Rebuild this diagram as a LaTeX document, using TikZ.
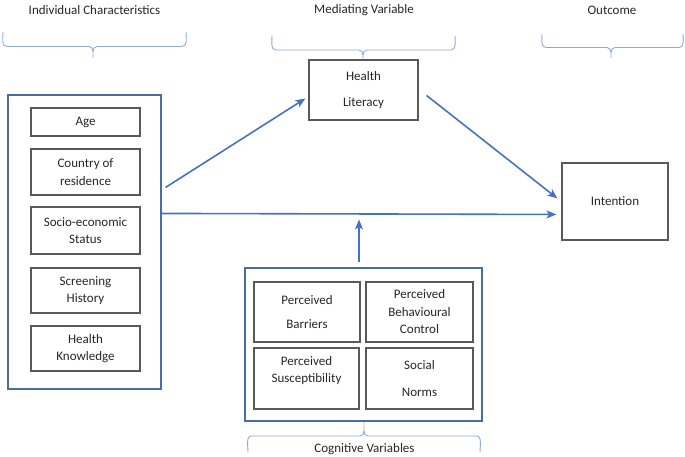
\documentclass[tikz,border=0pt]{standalone}
\usepackage{fontspec}
\setmainfont{Carlito}
\usetikzlibrary{arrows.meta,calc}
\definecolor{arrblue}{HTML}{4472C4}
\definecolor{boxblue}{HTML}{4A6BA8}
\definecolor{braceblue}{HTML}{8EAADB}
\definecolor{boxgray}{HTML}{595959}
\tikzset{
  every node/.style={font=\fontsize{13}{17.5}\selectfont, text=black!85},
  ibox/.style={draw=boxgray, line width=1.1pt, inner sep=0pt, align=center},
  obox/.style={draw=boxblue, line width=1.1pt, inner sep=0pt},
  arr/.style={draw=arrblue, line width=1.6pt, -{Stealth[length=10pt,width=8pt,inset=2.5pt]}},
  brace/.style={draw=braceblue, line width=0.9pt},
  lbl/.style={inner sep=0pt}
}
\newcommand{\topbrace}[6]{% x1, x2, xm, ytop, yh, ytip
  \draw[brace] (#1,#4) to[out=-90,in=180] (#1+4,#5) -- (#3-4,#5) to[out=0,in=90] (#3,#5+5) -- (#3,#6);
  \draw[brace] (#3,#5+5) to[out=90,in=180] (#3+4,#5) -- (#2-4,#5) to[out=0,in=-90] (#2,#4);
}
\newcommand{\botbrace}[6]{% x1, x2, xm, ybot, yh, ytip
  \draw[brace] (#1,#4) to[out=90,in=180] (#1+4,#5) -- (#3-4,#5) to[out=0,in=-90] (#3,#5-5) -- (#3,#6);
  \draw[brace] (#3,#5-5) to[out=-90,in=180] (#3+4,#5) -- (#2-4,#5) to[out=0,in=90] (#2,#4);
}
\begin{document}
\begin{tikzpicture}[x=1pt,y=-1pt]
\useasboundingbox (0,0) rectangle (685,457);

% headings
\node[lbl] (hind) at (94.5,10) {Individual Characteristics};
\node[lbl] (hmed) at (364,10) {Mediating Variable};
\node[lbl] (hout) at (612,10) {Outcome};
\node[lbl] (hcog) at (364.5,449) {Cognitive Variables};

% braces
\topbrace{3}{186}{93}{32}{46.5}{58}
\topbrace{272}{455}{363}{36}{50}{60}
\topbrace{542}{683}{611}{34}{47.5}{58}
\botbrace{248}{480}{364}{452}{436}{422}

% left group
\node[obox, minimum width=153pt, minimum height=294pt] (L) at (84.5,242) {};
\node[ibox, minimum width=109pt, minimum height=28pt] (age) at (85.5,122) {Age};
\node[ibox, minimum width=109pt, minimum height=46pt] (cor) at (85.5,172) {Country of\\residence};
\node[ibox, minimum width=109pt, minimum height=47pt] (ses) at (85.5,230.5) {Socio-economic\\Status};
\node[ibox, minimum width=109pt, minimum height=45pt] (sh) at (85.5,290.5) {Screening\\History};
\node[ibox, minimum width=109pt, minimum height=45pt] (hk) at (85.5,348.5) {Health\\Knowledge};

% mediating and outcome
\node[ibox, minimum width=109pt, minimum height=60pt] (HL) at (363.5,90) {Health\\[9pt]Literacy};
\node[ibox, minimum width=106pt, minimum height=77pt] (I) at (615,201.5) {Intention};

% cognitive group
\node[obox, minimum width=237pt, minimum height=153pt] (CB) at (363.5,344.5) {};
\node[ibox, minimum width=106pt, minimum height=60pt] (pb) at (307,312) {\rule{0pt}{6pt}Perceived\\[7pt]Barriers};
\node[ibox, minimum width=107pt, minimum height=60pt] (pbc) at (419.5,312) {Perceived\\Behavioural\\Control};
\node[ibox, minimum width=105pt, minimum height=61pt] (ps) at (306.5,378.5) {Perceived\\Susceptibility\\[1pt]};
\node[ibox, minimum width=107pt, minimum height=61pt] (sn) at (419.5,378.5) {Social\\[9pt]Norms};

% connectors
\draw[arr] ([shift={(4,93)}]L.north east) -- ([shift={(-3,39)}]HL.north west);
\draw[arr] ([shift={(0,119)}]L.north east) -- ([shift={(-5,52)}]I.north west);
\draw[arr] ([shift={(8,36)}]HL.north east) -- ([shift={(-4,36)}]I.north west);
\draw[arr, line width=1.8pt] ([shift={(-4.5,-5)}]CB.north) -- ([shift={(-4.5,-48)}]CB.north);
\end{tikzpicture}
\end{document}
